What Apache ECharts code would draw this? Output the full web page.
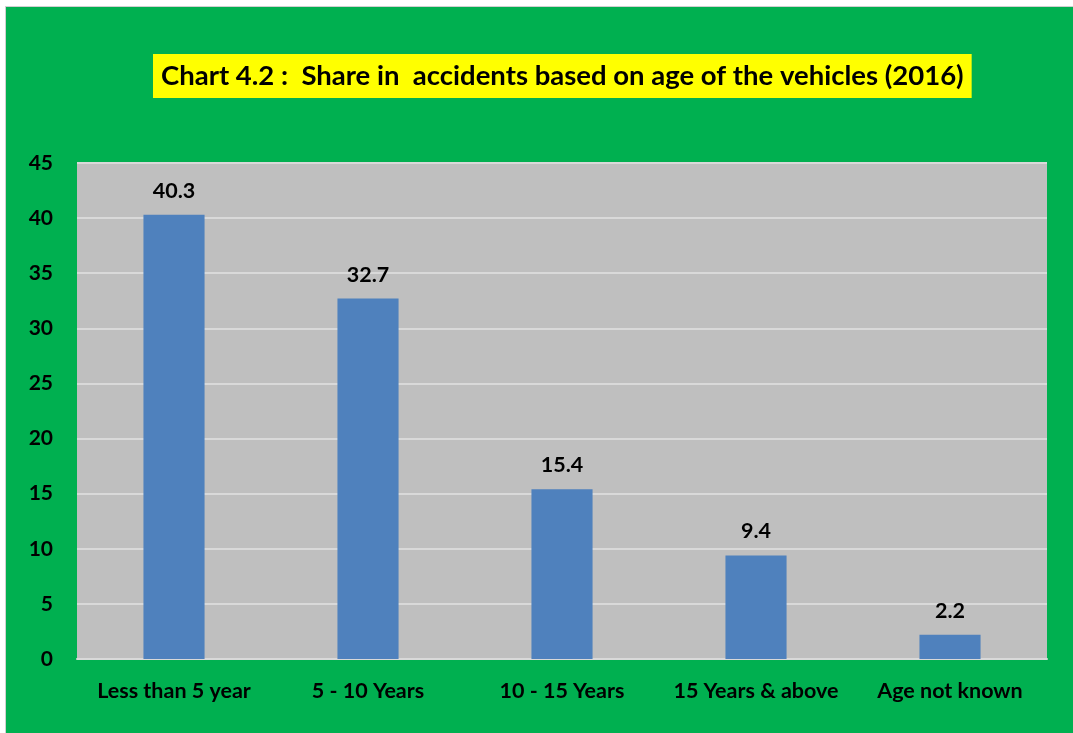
<!DOCTYPE html>
<html>
<head>
<meta charset="utf-8">
<script src="https://cdn.jsdelivr.net/npm/echarts@6/dist/echarts.min.js"></script>
<style>
  html, body { margin: 0; padding: 0; background: #ffffff; }
  #chart {
    position: absolute;
    left: 5px;
    top: 6px;
    width: 1068px;
    height: 727px;
    border-top: 1px solid #d0d0d0;
    border-left: 1px solid #d0d0d0;
    box-sizing: border-box;
  }
</style>
</head>
<body>
<div id="chart"></div>
<script>
const categories = ["Less than 5 year", "5 - 10 Years", "10 - 15 Years", "15 Years & above", "Age not known"];
const shareValues = [40.3, 32.7, 15.4, 9.4, 2.2];
const yTicks = [0, 5, 10, 15, 20, 25, 30, 35, 40, 45];

const FONT = "Lato, 'Open Sans', sans-serif";

const chart = echarts.init(document.getElementById("chart"));

chart.setOption({
  backgroundColor: "#00B050",
  animation: false,
  title: {
    text: "Chart 4.2 :  Share in  accidents based on age of the vehicles (2016)",
    left: 147,
    top: 47,
    backgroundColor: "#FFFF00",
    padding: [8, 8, 8, 8],
    textStyle: {
      fontFamily: FONT,
      fontSize: 27.5,
      fontWeight: "bold",
      color: "#000000",
    },
  },
  grid: {
    left: 71,
    right: 26,
    top: 156,
    bottom: 74,
    show: true,
    backgroundColor: "#BFBFBF",
    borderWidth: 0,
  },
  xAxis: {
    type: "category",
    data: categories,
    axisTick: { show: false },
    axisLine: { lineStyle: { color: "#D9D9D9", width: 2 } },
    axisLabel: {
      interval: 0,
      hideOverlap: false,
      margin: 21,
      fontFamily: FONT,
      fontSize: 21.5,
      fontWeight: "bold",
      color: "#000000",
    },
  },
  yAxis: {
    type: "value",
    min: yTicks[0],
    max: yTicks[yTicks.length - 1],
    interval: 5,
    axisLine: { show: false },
    axisTick: { show: false },
    splitLine: { lineStyle: { color: "#D9D9D9", width: 2 } },
    axisLabel: {
      margin: 24,
      fontFamily: FONT,
      fontSize: 21,
      fontWeight: "bold",
      color: "#000000",
    },
  },
  series: [
    {
      type: "bar",
      data: shareValues,
      barWidth: "31.5%",
      itemStyle: { color: "#4F81BD" },
      label: {
        show: true,
        position: "top",
        distance: 13,
        fontFamily: FONT,
        fontSize: 21.5,
        fontWeight: "bold",
        color: "#000000",
      },
    },
  ],
});
</script>
</body>
</html>
